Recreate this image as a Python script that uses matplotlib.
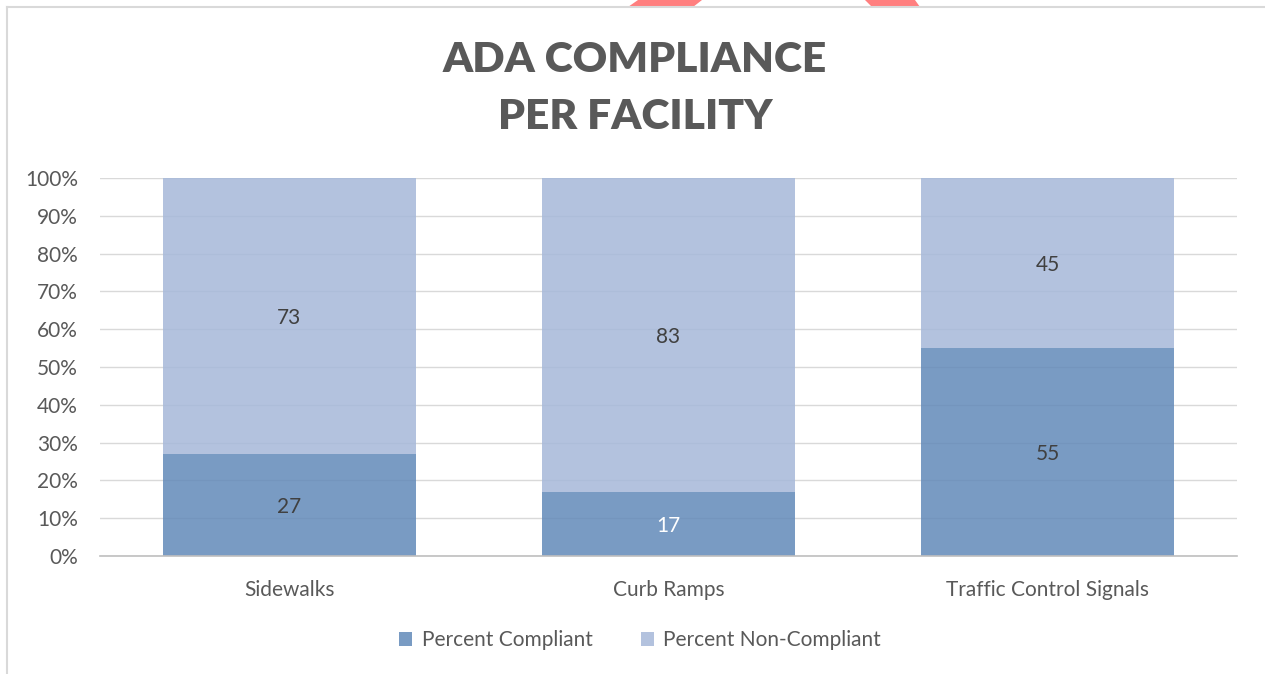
import matplotlib
matplotlib.use('Agg')
import matplotlib.pyplot as plt
from matplotlib.patches import Polygon, Patch
from matplotlib.lines import Line2D
import numpy as np

# data
categories = ['Sidewalks', 'Curb Ramps', 'Traffic Control Signals']
compliant = [27, 17, 55]
non_compliant = [73, 83, 45]
series_names = ['Percent Compliant', 'Percent Non-Compliant']

DARK = '#628AB9'
LIGHT = '#A6B8D9'
TEXT = '#595959'
GRID = '#D9D9D9'

W, H = 1265, 674
plt.rcParams['font.family'] = ['Lato', 'DejaVu Sans']

fig = plt.figure(figsize=(W / 100, H / 100), dpi=100)
ax = fig.add_axes([100 / W, 1 - 556 / H, 1137 / W, 378 / H])


def px(x, y):
    return (x / W, 1 - y / H)


# red shapes cut off at the top edge (background artwork)
for pts in ([(638, 0), (702, 0), (693, 7), (628, 7)],
            [(865, 0), (915, 0), (920, 7), (872, 7)]):
    fig.add_artist(Polygon([px(*p) for p in pts], closed=True,
                           transform=fig.transFigure, color='#FF7F7F', lw=0))

# chart frame
fig.add_artist(Line2D([px(7, 7)[0], px(7, 674)[0]], [px(7, 7)[1], 0],
                      transform=fig.transFigure, color=GRID, lw=1.5))
fig.add_artist(Line2D([px(7, 7)[0], 1], [px(7, 7)[1], px(7, 7)[1]],
                      transform=fig.transFigure, color=GRID, lw=1.5))

x = np.arange(len(categories))
width = 0.667
ax.set_axisbelow(True)
ax.yaxis.grid(True, color=GRID, lw=1)
ax.bar(x, compliant, width, color=DARK, alpha=0.85, lw=0, label=series_names[0])
ax.bar(x, non_compliant, width, bottom=compliant, color=LIGHT, alpha=0.85, lw=0,
       label=series_names[1])

for i in range(len(categories)):
    c = 'white' if compliant[i] < 20 else '#404040'
    ax.text(x[i], compliant[i] / 2, str(compliant[i]), ha='center',
            va='center_baseline', fontsize=15, color=c)
    ax.text(x[i], compliant[i] + non_compliant[i] / 2, str(non_compliant[i]),
            ha='center', va='center_baseline', fontsize=15, color='#404040')

ax.set_xlim(-0.5, 2.5)
ax.set_ylim(0, 100)
ax.set_yticks(np.arange(0, 101, 10))
ax.set_yticklabels(['%d%%' % v for v in range(0, 101, 10)])
ax.set_xticks(x)
ax.set_xticklabels(categories)
ax.tick_params(axis='both', length=0, labelsize=15, labelcolor=TEXT)
ax.tick_params(axis='y', pad=16)
ax.tick_params(axis='x', pad=17)
for s in ['top', 'right', 'left']:
    ax.spines[s].set_visible(False)
ax.spines['bottom'].set_color('#BFBFBF')
ax.spines['bottom'].set_linewidth(1.2)

fig.text(px(635, 60)[0], px(635, 60)[1], 'ADA COMPLIANCE', ha='center', va='center',
         fontsize=30.6, fontweight='heavy', color=TEXT)
fig.text(px(635, 117)[0], px(635, 117)[1], 'PER FACILITY', ha='center', va='center',
         fontsize=30.6, fontweight='heavy', color=TEXT)

handles = [Patch(facecolor=DARK, alpha=0.85), Patch(facecolor=LIGHT, alpha=0.85)]
fig.legend(handles, series_names, loc='center', bbox_to_anchor=px(640, 640),
           ncol=2, frameon=False, fontsize=15, labelcolor=TEXT,
           handlelength=0.65, handleheight=0.65, handletextpad=0.45, columnspacing=2.3)

fig.savefig('out.png', dpi=100)
